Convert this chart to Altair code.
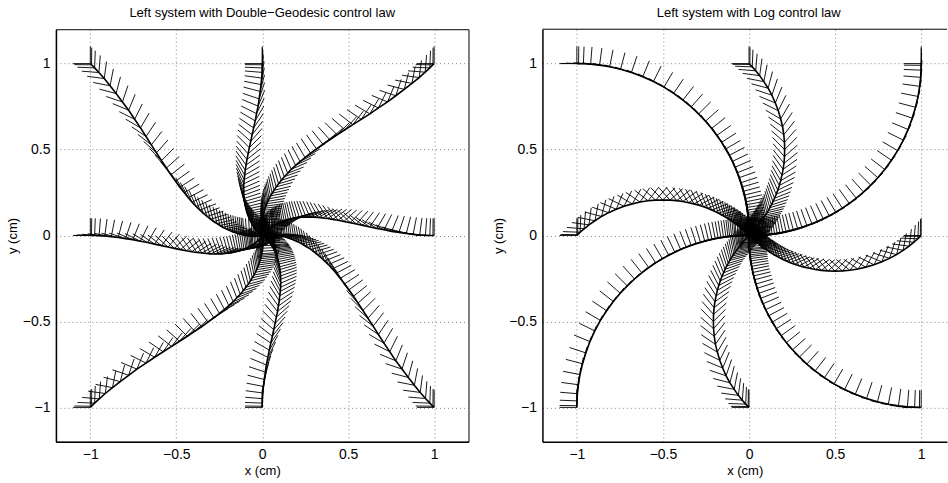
import altair as alt
import pandas as pd

# heading (degrees) of the body frame at each drawn sample, shared by every run
THETA = [90, 89.4, 87.8, 85.4, 82.4, 79.0, 75.3, 71.5, 67.5, 63.6, 59.6, 55.8, 52.0, 48.4, 45.0,
         41.7, 38.5, 35.6, 32.8, 30.2, 27.8, 25.5, 23.4, 21.4, 19.6, 17.9, 16.4, 14.9, 13.6, 12.4,
         11.3, 10.3, 9.4, 8.5, 7.7, 7.0, 6.4, 5.8, 5.2, 4.7, 4.3, 3.6, 2.8, 2.2, 1.6, 0.9, 0.7, 0.3, 0.0]

# ---------------- Double-Geodesic runs (x, y in cm) ----------------
DG_L_X = [-1.0, -.993, -.975, -.949, -.916, -.878, -.838, -.795, -.753, -.709, -.667, -.626, -.586, -.548, -.511,
          -.475, -.442, -.41, -.38, -.351, -.325, -.301, -.277, -.255, -.235, -.216, -.198, -.182, -.166, -.152,
          -.139, -.127, -.116, -.106, -.096, -.088, -.08, -.072, -.066, -.06, -.054, -.045, -.036, -.027, -.019,
          -.013, -.008, -.004, -.001]
DG_L_Y = [0, 0, 0, -.001, -.003, -.007, -.012, -.018, -.024, -.033, -.041, -.05, -.059, -.067, -.075,
          -.082, -.089, -.094, -.099, -.102, -.105, -.107, -.108, -.107, -.107, -.105, -.103, -.101, -.097, -.094,
          -.091, -.087, -.083, -.079, -.075, -.071, -.067, -.063, -.059, -.055, -.052, -.046, -.038, -.032, -.024,
          -.017, -.012, -.005, -.001]
DG_T_X = [0, 0, 0, -.001, -.003, -.007, -.012, -.018, -.024, -.033, -.041, -.05, -.059, -.067, -.075,
          -.082, -.089, -.094, -.099, -.102, -.105, -.107, -.108, -.107, -.107, -.105, -.103, -.101, -.097, -.094,
          -.091, -.087, -.083, -.079, -.075, -.071, -.067, -.063, -.059, -.055, -.052, -.046, -.038, -.032, -.024,
          -.017, -.012, -.005, -.001]
DG_T_Y = [1.0, .993, .975, .949, .916, .878, .838, .795, .753, .709, .667, .626, .586, .548, .511,
          .475, .442, .41, .38, .351, .325, .301, .277, .255, .235, .216, .198, .182, .166, .152,
          .139, .127, .116, .106, .096, .088, .08, .072, .066, .06, .054, .045, .036, .027, .019,
          .013, .008, .004, .001]
DG_R_X = [1.0, .993, .975, .949, .916, .878, .838, .795, .753, .709, .667, .626, .586, .548, .511,
          .475, .442, .41, .38, .351, .325, .301, .277, .255, .235, .216, .198, .182, .166, .152,
          .139, .127, .116, .106, .096, .088, .08, .072, .066, .06, .054, .045, .036, .027, .019,
          .013, .008, .004, .001]
DG_R_Y = [0, 0, 0, .001, .003, .007, .012, .018, .024, .033, .041, .05, .059, .067, .075,
          .082, .089, .094, .099, .102, .105, .107, .108, .107, .107, .105, .103, .101, .097, .094,
          .091, .087, .083, .079, .075, .071, .067, .063, .059, .055, .052, .046, .038, .032, .024,
          .017, .012, .005, .001]
DG_B_X = [0, 0, 0, .001, .003, .007, .012, .018, .024, .033, .041, .05, .059, .067, .075,
          .082, .089, .094, .099, .102, .105, .107, .108, .107, .107, .105, .103, .101, .097, .094,
          .091, .087, .083, .079, .075, .071, .067, .063, .059, .055, .052, .046, .038, .032, .024,
          .017, .012, .005, .001]
DG_B_Y = [-1.0, -.993, -.975, -.949, -.916, -.878, -.838, -.795, -.753, -.709, -.667, -.626, -.586, -.548, -.511,
          -.475, -.442, -.41, -.38, -.351, -.325, -.301, -.277, -.255, -.235, -.216, -.198, -.182, -.166, -.152,
          -.139, -.127, -.116, -.106, -.096, -.088, -.08, -.072, -.066, -.06, -.054, -.045, -.036, -.027, -.019,
          -.013, -.008, -.004, -.001]
DG_TL_X = [-1.0, -.993, -.975, -.95, -.919, -.885, -.85, -.813, -.777, -.742, -.708, -.676, -.645, -.615, -.586,
           -.557, -.531, -.504, -.479, -.453, -.43, -.408, -.385, -.362, -.342, -.321, -.301, -.283, -.263, -.246,
           -.23, -.214, -.199, -.185, -.171, -.159, -.147, -.135, -.125, -.115, -.106, -.091, -.074, -.059, -.043,
           -.03, -.02, -.009, -.002]
DG_TL_Y = [1.0, .993, .975, .948, .913, .871, .826, .777, .729, .676, .626, .576, .527, .481, .436,
           .393, .353, .316, .281, .249, .22, .194, .169, .148, .128, .111, .095, .081, .069, .058,
           .048, .04, .033, .027, .021, .017, .013, .009, .007, .005, .002, -.001, -.002, -.005, -.005,
           -.004, -.004, -.001, 0]
DG_TR_X = [1.0, .993, .975, .948, .913, .871, .826, .777, .729, .676, .626, .576, .527, .481, .436,
           .393, .353, .316, .281, .249, .22, .194, .169, .148, .128, .111, .095, .081, .069, .058,
           .048, .04, .033, .027, .021, .017, .013, .009, .007, .005, .002, -.001, -.002, -.005, -.005,
           -.004, -.004, -.001, 0]
DG_TR_Y = [1.0, .993, .975, .95, .919, .885, .85, .813, .777, .742, .708, .676, .645, .615, .586,
           .557, .531, .504, .479, .453, .43, .408, .385, .362, .342, .321, .301, .283, .263, .246,
           .23, .214, .199, .185, .171, .159, .147, .135, .125, .115, .106, .091, .074, .059, .043,
           .03, .02, .009, .002]
DG_BR_X = [1.0, .993, .975, .95, .919, .885, .85, .813, .777, .742, .708, .676, .645, .615, .586,
           .557, .531, .504, .479, .453, .43, .408, .385, .362, .342, .321, .301, .283, .263, .246,
           .23, .214, .199, .185, .171, .159, .147, .135, .125, .115, .106, .091, .074, .059, .043,
           .03, .02, .009, .002]
DG_BR_Y = [-1.0, -.993, -.975, -.948, -.913, -.871, -.826, -.777, -.729, -.676, -.626, -.576, -.527, -.481, -.436,
           -.393, -.353, -.316, -.281, -.249, -.22, -.194, -.169, -.148, -.128, -.111, -.095, -.081, -.069, -.058,
           -.048, -.04, -.033, -.027, -.021, -.017, -.013, -.009, -.007, -.005, -.002, .001, .002, .005, .005,
           .004, .004, .001, 0]
DG_BL_X = [-1.0, -.993, -.975, -.948, -.913, -.871, -.826, -.777, -.729, -.676, -.626, -.576, -.527, -.481, -.436,
           -.393, -.353, -.316, -.281, -.249, -.22, -.194, -.169, -.148, -.128, -.111, -.095, -.081, -.069, -.058,
           -.048, -.04, -.033, -.027, -.021, -.017, -.013, -.009, -.007, -.005, -.002, .001, .002, .005, .005,
           .004, .004, .001, 0]
DG_BL_Y = [-1.0, -.993, -.975, -.95, -.919, -.885, -.85, -.813, -.777, -.742, -.708, -.676, -.645, -.615, -.586,
           -.557, -.531, -.504, -.479, -.453, -.43, -.408, -.385, -.362, -.342, -.321, -.301, -.283, -.263, -.246,
           -.23, -.214, -.199, -.185, -.171, -.159, -.147, -.135, -.125, -.115, -.106, -.091, -.074, -.059, -.043,
           -.03, -.02, -.009, -.002]

# ---------------- Log runs (x, y in cm) ----------------
LOG_TL_X = [-1.0, -.99, -.962, -.92, -.868, -.809, -.746, -.683, -.617, -.555, -.494, -.438, -.384, -.336, -.293,
            -.253, -.217, -.187, -.159, -.136, -.115, -.097, -.082, -.069, -.058, -.048, -.041, -.034, -.028, -.023,
            -.019, -.016, -.013, -.011, -.009, -.008, -.006, -.005, -.004, -.003, -.003, -.002, -.001, -.001, 0,
            0, 0, 0, 0]
LOG_TL_Y = [1.0, 1.0, .999, .997, .991, .982, .967, .948, .924, .896, .863, .827, .788, .748, .707,
            .665, .623, .582, .542, .503, .466, .431, .397, .365, .336, .307, .282, .257, .235, .215,
            .196, .179, .163, .148, .134, .122, .112, .101, .091, .082, .075, .063, .049, .038, .028,
            .016, .012, .005, 0]
LOG_TR_X = [1.0, 1.0, .999, .997, .991, .982, .967, .948, .924, .896, .863, .827, .788, .748, .707,
            .665, .623, .582, .542, .503, .466, .431, .397, .365, .336, .307, .282, .257, .235, .215,
            .196, .179, .163, .148, .134, .122, .112, .101, .091, .082, .075, .063, .049, .038, .028,
            .016, .012, .005, 0]
LOG_TR_Y = [1.0, .99, .962, .92, .868, .809, .746, .683, .617, .555, .494, .438, .384, .336, .293,
            .253, .217, .187, .159, .136, .115, .097, .082, .069, .058, .048, .041, .034, .028, .023,
            .019, .016, .013, .011, .009, .008, .006, .005, .004, .003, .003, .002, .001, .001, 0,
            0, 0, 0, 0]
LOG_BR_X = [1.0, .99, .962, .92, .868, .809, .746, .683, .617, .555, .494, .438, .384, .336, .293,
            .253, .217, .187, .159, .136, .115, .097, .082, .069, .058, .048, .041, .034, .028, .023,
            .019, .016, .013, .011, .009, .008, .006, .005, .004, .003, .003, .002, .001, .001, 0,
            0, 0, 0, 0]
LOG_BR_Y = [-1.0, -1.0, -.999, -.997, -.991, -.982, -.967, -.948, -.924, -.896, -.863, -.827, -.788, -.748, -.707,
            -.665, -.623, -.582, -.542, -.503, -.466, -.431, -.397, -.365, -.336, -.307, -.282, -.257, -.235, -.215,
            -.196, -.179, -.163, -.148, -.134, -.122, -.112, -.101, -.091, -.082, -.075, -.063, -.049, -.038, -.028,
            -.016, -.012, -.005, 0]
LOG_BL_X = [-1.0, -1.0, -.999, -.997, -.991, -.982, -.967, -.948, -.924, -.896, -.863, -.827, -.788, -.748, -.707,
            -.665, -.623, -.582, -.542, -.503, -.466, -.431, -.397, -.365, -.336, -.307, -.282, -.257, -.235, -.215,
            -.196, -.179, -.163, -.148, -.134, -.122, -.112, -.101, -.091, -.082, -.075, -.063, -.049, -.038, -.028,
            -.016, -.012, -.005, 0]
LOG_BL_Y = [-1.0, -.99, -.962, -.92, -.868, -.809, -.746, -.683, -.617, -.555, -.494, -.438, -.384, -.336, -.293,
            -.253, -.217, -.187, -.159, -.136, -.115, -.097, -.082, -.069, -.058, -.048, -.041, -.034, -.028, -.023,
            -.019, -.016, -.013, -.011, -.009, -.008, -.006, -.005, -.004, -.003, -.003, -.002, -.001, -.001, 0,
            0, 0, 0, 0]
LOG_L_X = [-1.0, -.995, -.981, -.958, -.93, -.895, -.857, -.816, -.771, -.726, -.678, -.633, -.586, -.542, -.5,
           -.459, -.42, -.385, -.351, -.319, -.291, -.264, -.24, -.217, -.197, -.178, -.162, -.145, -.132, -.119,
           -.108, -.098, -.088, -.079, -.072, -.065, -.059, -.053, -.047, -.043, -.039, -.032, -.025, -.02, -.014,
           -.008, -.006, -.003, 0]
LOG_L_Y = [0, .005, .019, .039, .062, .086, .111, .133, .153, .17, .184, .195, .202, .206, .207,
           .206, .203, .198, .191, .184, .176, .167, .158, .148, .139, .13, .121, .112, .104, .096,
           .088, .081, .075, .068, .063, .057, .053, .048, .043, .039, .036, .03, .024, .019, .014,
           .008, .006, .003, 0]
LOG_T_X = [0, .005, .019, .039, .062, .086, .111, .133, .153, .17, .184, .195, .202, .206, .207,
           .206, .203, .198, .191, .184, .176, .167, .158, .148, .139, .13, .121, .112, .104, .096,
           .088, .081, .075, .068, .063, .057, .053, .048, .043, .039, .036, .03, .024, .019, .014,
           .008, .006, .003, 0]
LOG_T_Y = [1.0, .995, .981, .958, .93, .895, .857, .816, .771, .726, .678, .633, .586, .542, .5,
           .459, .42, .385, .351, .319, .291, .264, .24, .217, .197, .178, .162, .145, .132, .119,
           .108, .098, .088, .079, .072, .065, .059, .053, .047, .043, .039, .032, .025, .02, .014,
           .008, .006, .003, 0]
LOG_R_X = [1.0, .995, .981, .958, .93, .895, .857, .816, .771, .726, .678, .633, .586, .542, .5,
           .459, .42, .385, .351, .319, .291, .264, .24, .217, .197, .178, .162, .145, .132, .119,
           .108, .098, .088, .079, .072, .065, .059, .053, .047, .043, .039, .032, .025, .02, .014,
           .008, .006, .003, 0]
LOG_R_Y = [0, -.005, -.019, -.039, -.062, -.086, -.111, -.133, -.153, -.17, -.184, -.195, -.202, -.206, -.207,
           -.206, -.203, -.198, -.191, -.184, -.176, -.167, -.158, -.148, -.139, -.13, -.121, -.112, -.104, -.096,
           -.088, -.081, -.075, -.068, -.063, -.057, -.053, -.048, -.043, -.039, -.036, -.03, -.024, -.019, -.014,
           -.008, -.006, -.003, 0]
LOG_B_X = [0, -.005, -.019, -.039, -.062, -.086, -.111, -.133, -.153, -.17, -.184, -.195, -.202, -.206, -.207,
           -.206, -.203, -.198, -.191, -.184, -.176, -.167, -.158, -.148, -.139, -.13, -.121, -.112, -.104, -.096,
           -.088, -.081, -.075, -.068, -.063, -.057, -.053, -.048, -.043, -.039, -.036, -.03, -.024, -.019, -.014,
           -.008, -.006, -.003, 0]
LOG_B_Y = [-1.0, -.995, -.981, -.958, -.93, -.895, -.857, -.816, -.771, -.726, -.678, -.633, -.586, -.542, -.5,
           -.459, -.42, -.385, -.351, -.319, -.291, -.264, -.24, -.217, -.197, -.178, -.162, -.145, -.132, -.119,
           -.108, -.098, -.088, -.079, -.072, -.065, -.059, -.053, -.047, -.043, -.039, -.032, -.025, -.02, -.014,
           -.008, -.006, -.003, 0]

TITLE_DG = "Left system with Double\u2212Geodesic control law"
TITLE_LOG = "Left system with Log control law"
X_TICKS = [-1, -0.5, 0, 0.5, 1]
Y_TICKS = [-1, -0.5, 0, 0.5, 1]
Y_TOP = 1.2  # upper limit of both y axes (box line of the cut-off right panel)

DG_RUNS = {"L": (DG_L_X, DG_L_Y), "T": (DG_T_X, DG_T_Y), "R": (DG_R_X, DG_R_Y), "B": (DG_B_X, DG_B_Y),
           "TL": (DG_TL_X, DG_TL_Y), "TR": (DG_TR_X, DG_TR_Y), "BR": (DG_BR_X, DG_BR_Y), "BL": (DG_BL_X, DG_BL_Y)}
LOG_RUNS = {"L": (LOG_L_X, LOG_L_Y), "T": (LOG_T_X, LOG_T_Y), "R": (LOG_R_X, LOG_R_Y), "B": (LOG_B_X, LOG_B_Y),
            "TL": (LOG_TL_X, LOG_TL_Y), "TR": (LOG_TR_X, LOG_TR_Y), "BR": (LOG_BR_X, LOG_BR_Y),
            "BL": (LOG_BL_X, LOG_BL_Y)}


def table(runs):
    rows = []
    for name, (xs, ys) in runs.items():
        for i, (x, y) in enumerate(zip(xs, ys)):
            rows.append({"run": name, "i": i, "x": x, "y": y, "theta": THETA[i]})
    return pd.DataFrame(rows)


FONT = "Liberation Sans"


def panel(df, title, xdomain, width, dx, boxed):
    xs = alt.Scale(domain=xdomain, nice=False, zero=False)
    ys = alt.Scale(domain=[-1.2, Y_TOP], nice=False, zero=False)
    xax = alt.Axis(values=X_TICKS, format="~g", title="x (cm)")
    yax = alt.Axis(values=Y_TICKS, format="~g", title="y (cm)")
    X = alt.X("x:Q", scale=xs, axis=xax)
    Y = alt.Y("y:Q", scale=ys, axis=yax)
    base = alt.Chart(df)
    path = base.mark_line(color="black", strokeWidth=1.6, clip=True).encode(
        x=X, y=Y, detail="run:N", order="i:Q",
    )
    e1 = base.transform_calculate(
        xe="datum.x + 0.1*cos(datum.theta*PI/180)",
        ye="datum.y + 0.1*sin(datum.theta*PI/180)",
    ).mark_rule(color="black", strokeWidth=0.9, clip=True).encode(x=X, y=Y, x2="xe:Q", y2="ye:Q")
    e2 = base.transform_calculate(
        xe="datum.x - 0.1*sin(datum.theta*PI/180)",
        ye="datum.y + 0.1*cos(datum.theta*PI/180)",
    ).mark_rule(color="black", strokeWidth=0.9, clip=True).encode(x=X, y=Y, x2="xe:Q", y2="ye:Q")
    layers = [path, e1, e2]
    props = dict(
        width=width, height=413,
        title=alt.TitleParams(title, font=FONT, fontSize=13, fontWeight="normal", color="black",
                              anchor="middle", offset=9, dx=dx),
    )
    if not boxed:
        top = alt.Chart(pd.DataFrame({"y": [Y_TOP]})).mark_rule(color="black", strokeWidth=1).encode(
            y=alt.Y("y:Q", scale=ys, axis=yax)
        )
        layers.append(top)
        props["view"] = alt.ViewBackground(stroke="transparent")
    return alt.layer(*layers).properties(**props)


left = panel(table(DG_RUNS), TITLE_DG, [-1.2, 1.2], 413, 0, True)
right = panel(table(LOG_RUNS), TITLE_LOG, [-1.2, 1.15], 405, 4, False)

chart = alt.hconcat(left, right, spacing=74, bounds="flush").properties(
    padding={"left": 5, "top": 6, "right": 0, "bottom": 8},
).configure_view(stroke="black", strokeWidth=1).configure_axis(
    domainColor="black", domainWidth=1.5, ticks=False, labelPadding=6,
    labelFont=FONT, labelFontSize=14, labelColor="black",
    titleFont=FONT, titleFontSize=13, titleFontWeight="normal", titleColor="black", titlePadding=3,
    grid=True, gridColor="#666666", gridDash=[1, 3], gridWidth=0.8,
)

chart.save("out.html", embed_options={"renderer": "svg", "actions": False})
